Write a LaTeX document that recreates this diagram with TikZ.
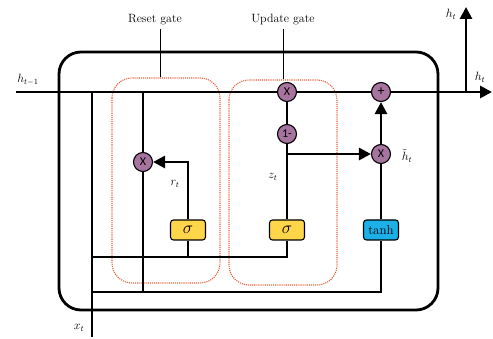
\documentclass[tikz,border=0pt]{standalone}
\usepackage{fontspec}
\newfontfamily\carlitofont{Carlito}
\usetikzlibrary{arrows.meta}
\definecolor{opc}{HTML}{A6749E}
\definecolor{sigc}{HTML}{FFD54A}
\definecolor{tanc}{HTML}{1BB0E8}
\definecolor{gatec}{HTML}{E8603A}
\tikzset{
  wire/.style={line width=2.8pt},
  arr/.style={wire,-{Triangle[length=12pt,width=12pt]}},
  op/.style={circle,draw,line width=1.1pt,fill=opc,minimum size=19pt,inner sep=0pt,font=\carlitofont\fontsize{12}{12}\selectfont},
  act/.style={rounded corners=3pt,draw,line width=1.1pt,minimum width=35pt,minimum height=20pt,inner sep=0pt,font=\fontsize{13}{13}\selectfont},
  gate/.style={draw=gatec,densely dotted,line width=1.1pt,rounded corners=20pt},
  lbl/.style={font=\fontsize{12}{13}\selectfont,inner sep=1pt},
}
\begin{document}
\begin{tikzpicture}[x=1pt,y=-1pt]
\useasboundingbox (0,0) rectangle (493,339);
% gates (dotted)
\draw[gate] (112,78) rectangle (220,283);
\draw[gate] (229,80) rectangle (337,285);
% outer cell box
\draw[wire,rounded corners=22pt] (59,52) rectangle (438,310);
% coordinates
\coordinate (hin) at (16,92);
\coordinate (hout) at (492,92);
\coordinate (xin) at (92,337);
\coordinate (xtop) at (92,92);
\coordinate (rtop) at (143,92);
\coordinate (hup) at (466,92);
\coordinate (hupend) at (466,7);
\coordinate (rsb) at (188,257);
\coordinate (usb) at (287,257);
\coordinate (lb1) at (92,257);
\coordinate (tb) at (381,292);
\coordinate (lb2) at (92,292);
\coordinate (rb) at (143,292);
\coordinate (zsplit) at (287,154);
% nodes
\node[op] (rx) at (143,162) {X};
\node[op] (ux) at (287,92) {X};
\node[op] (om) at (287,134) {1-};
\node[op] (tx) at (381,154) {X};
\node[op] (plus) at (381,92) {\fontsize{14}{14}\selectfont +};
\node[act,fill=sigc] (rs) at (188,230) {\fontsize{16}{16}\selectfont$\sigma$};
\node[act,fill=sigc] (us) at (287,230) {\fontsize{16}{16}\selectfont$\sigma$};
\node[act,fill=tanc] (th) at (381,230) {tanh};
% main line
\draw[wire] (hin) -- (ux);
\draw[wire] (ux) -- (plus);
\draw[arr] (plus) -- (hout);
\draw[arr] (hup) -- (hupend);
% x_t and left wiring
\draw[wire] (xtop) -- (xin);
\draw[wire] (rtop) -- (rx);
\draw[wire] (rx) -- (rb);
\draw[wire] (lb1) -- (usb) -- (us.south);
\draw[wire] (rs.south) -- (rsb);
\draw[wire] (lb2) -- (tb) -- (th.south);
% reset gate
\draw[arr] (rs.north) |- (rx);
% update gate
\draw[wire] (ux) -- (om);
\draw[wire] (om) -- (us);
\draw[arr] (zsplit) -- (tx);
% candidate
\draw[wire] (th) -- (tx);
\draw[arr] (tx) -- (plus);
% labels
\node[lbl] at (155,20) {Reset gate};
\node[lbl] at (283,20) {Update gate};
\draw[line width=0.9pt] (160,29) -- (160,77);
\draw[line width=0.9pt] (283,29) -- (283,79);
\node[lbl] at (28,80) {$h_{t-1}$};
\node[lbl] at (480,77) {$h_t$};
\node[lbl] at (451,14) {$h_t$};
\node[lbl] at (79,328) {$x_t$};
\node[lbl] at (175,184) {$r_t$};
\node[lbl] at (273,177) {$z_t$};
\node[lbl] at (407,156) {$\tilde{h}_t$};
\end{tikzpicture}
\end{document}
